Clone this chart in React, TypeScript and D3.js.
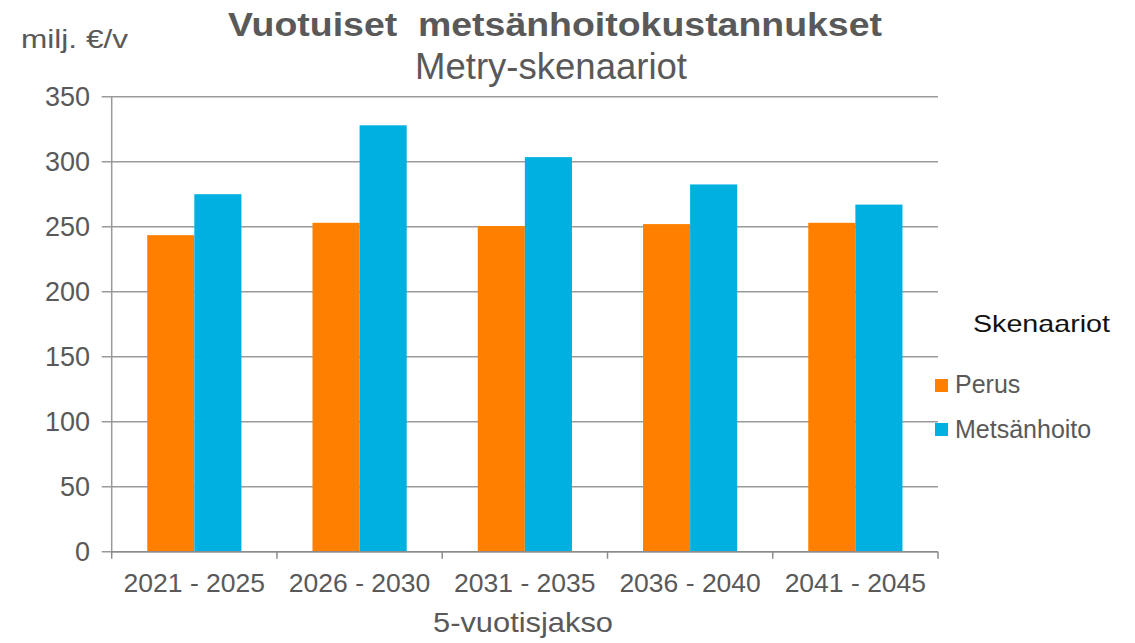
import React from "react";
import * as d3 from "d3";

const categories = ["2021 - 2025", "2026 - 2030", "2031 - 2035", "2036 - 2040", "2041 - 2045"];
const seriesNames = ["Perus", "Metsänhoito"];
const perusValues = [243.5, 253, 250.5, 252, 253];
const metsanhoitoValues = [275, 328, 303.5, 282.5, 267];
const yTicks = [0, 50, 100, 150, 200, 250, 300, 350];
const colors = ["#FF8000", "#00B0E0"];

const W = 1135;
const H = 643;
const left = 111.7;
const right = 938;
const top = 96.7;
const bottom = 551.7;
const TEXT = "#595959";
const FONT = "'Liberation Sans', Arial, sans-serif";

export default function App() {
  const x = d3.scaleBand<string>().domain(categories).range([left, right]).paddingInner(0.43).paddingOuter(0.215);
  const step = (right - left) / categories.length;
  const x1 = d3.scaleBand<string>().domain(seriesNames).range([0, x.bandwidth()]);
  const y = d3.scaleLinear().domain([0, 350]).range([bottom, top]);
  const series = [perusValues, metsanhoitoValues];

  return (
    <svg width={W} height={H} style={{ position: "absolute", left: 0, top: 0, background: "#fff" }} fontFamily={FONT}>
      <rect x={0} y={0} width={W} height={H} fill="#fff" />
      {yTicks.map((t) => (
        <g key={t}>
          <line x1={left - 10} x2={right} y1={y(t)} y2={y(t)} stroke="#9a9a9a" strokeWidth={1.5} />
          <text x={90} y={y(t)} dy="0.36em" textAnchor="end" fontSize={27} fill={TEXT}>
            {t}
          </text>
        </g>
      ))}
      <line x1={left} x2={left} y1={top} y2={bottom} stroke="#9a9a9a" strokeWidth={1.5} />
      {categories.map((c, i) => (
        <g key={c} transform={`translate(${x(c)},0)`}>
          {series.map((vals, si) => (
            <rect
              key={si}
              x={x1(seriesNames[si])}
              y={y(vals[i])}
              width={x1.bandwidth()}
              height={y(0) - y(vals[i])}
              fill={colors[si]}
            />
          ))}
        </g>
      ))}
      <line x1={left} x2={right} y1={bottom} y2={bottom} stroke="#8c8c8c" strokeWidth={1.5} />
      {d3.range(categories.length + 1).map((k) => (
        <line key={k} x1={left + k * step} x2={left + k * step} y1={bottom} y2={bottom + 7} stroke="#8c8c8c" strokeWidth={1.5} />
      ))}
      {categories.map((c) => (
        <text key={c} x={(x(c) as number) + x.bandwidth() / 2} y={592} textAnchor="middle" fontSize={26.5} fill={TEXT}>
          {c}
        </text>
      ))}
      <text x={523} y={632} textAnchor="middle" fontSize={28} fill={TEXT} textLength={180} lengthAdjust="spacingAndGlyphs">
        5-vuotisjakso
      </text>
      <text x={21} y={48} fontSize={25} fill={TEXT} textLength={107} lengthAdjust="spacingAndGlyphs">
        milj. €/v
      </text>
      <text x={555} y={36} textAnchor="middle" fontSize={34} fontWeight="bold" fill={TEXT} textLength={654} lengthAdjust="spacingAndGlyphs" xmlSpace="preserve">
        Vuotuiset  metsänhoitokustannukset
      </text>
      <text x={551} y={79} textAnchor="middle" fontSize={36} fill={TEXT} textLength={272} lengthAdjust="spacingAndGlyphs">
        Metry-skenaariot
      </text>
      <text x={973} y={332} fontSize={24} fill="#111" textLength={137} lengthAdjust="spacingAndGlyphs">
        Skenaariot
      </text>
      {seriesNames.map((n, i) => (
        <g key={n}>
          <rect x={935} y={379 + i * 44} width={13} height={13} fill={colors[i]} />
          <text x={955} y={393 + i * 45} fontSize={25} fill={TEXT}>
            {n}
          </text>
        </g>
      ))}
    </svg>
  );
}
